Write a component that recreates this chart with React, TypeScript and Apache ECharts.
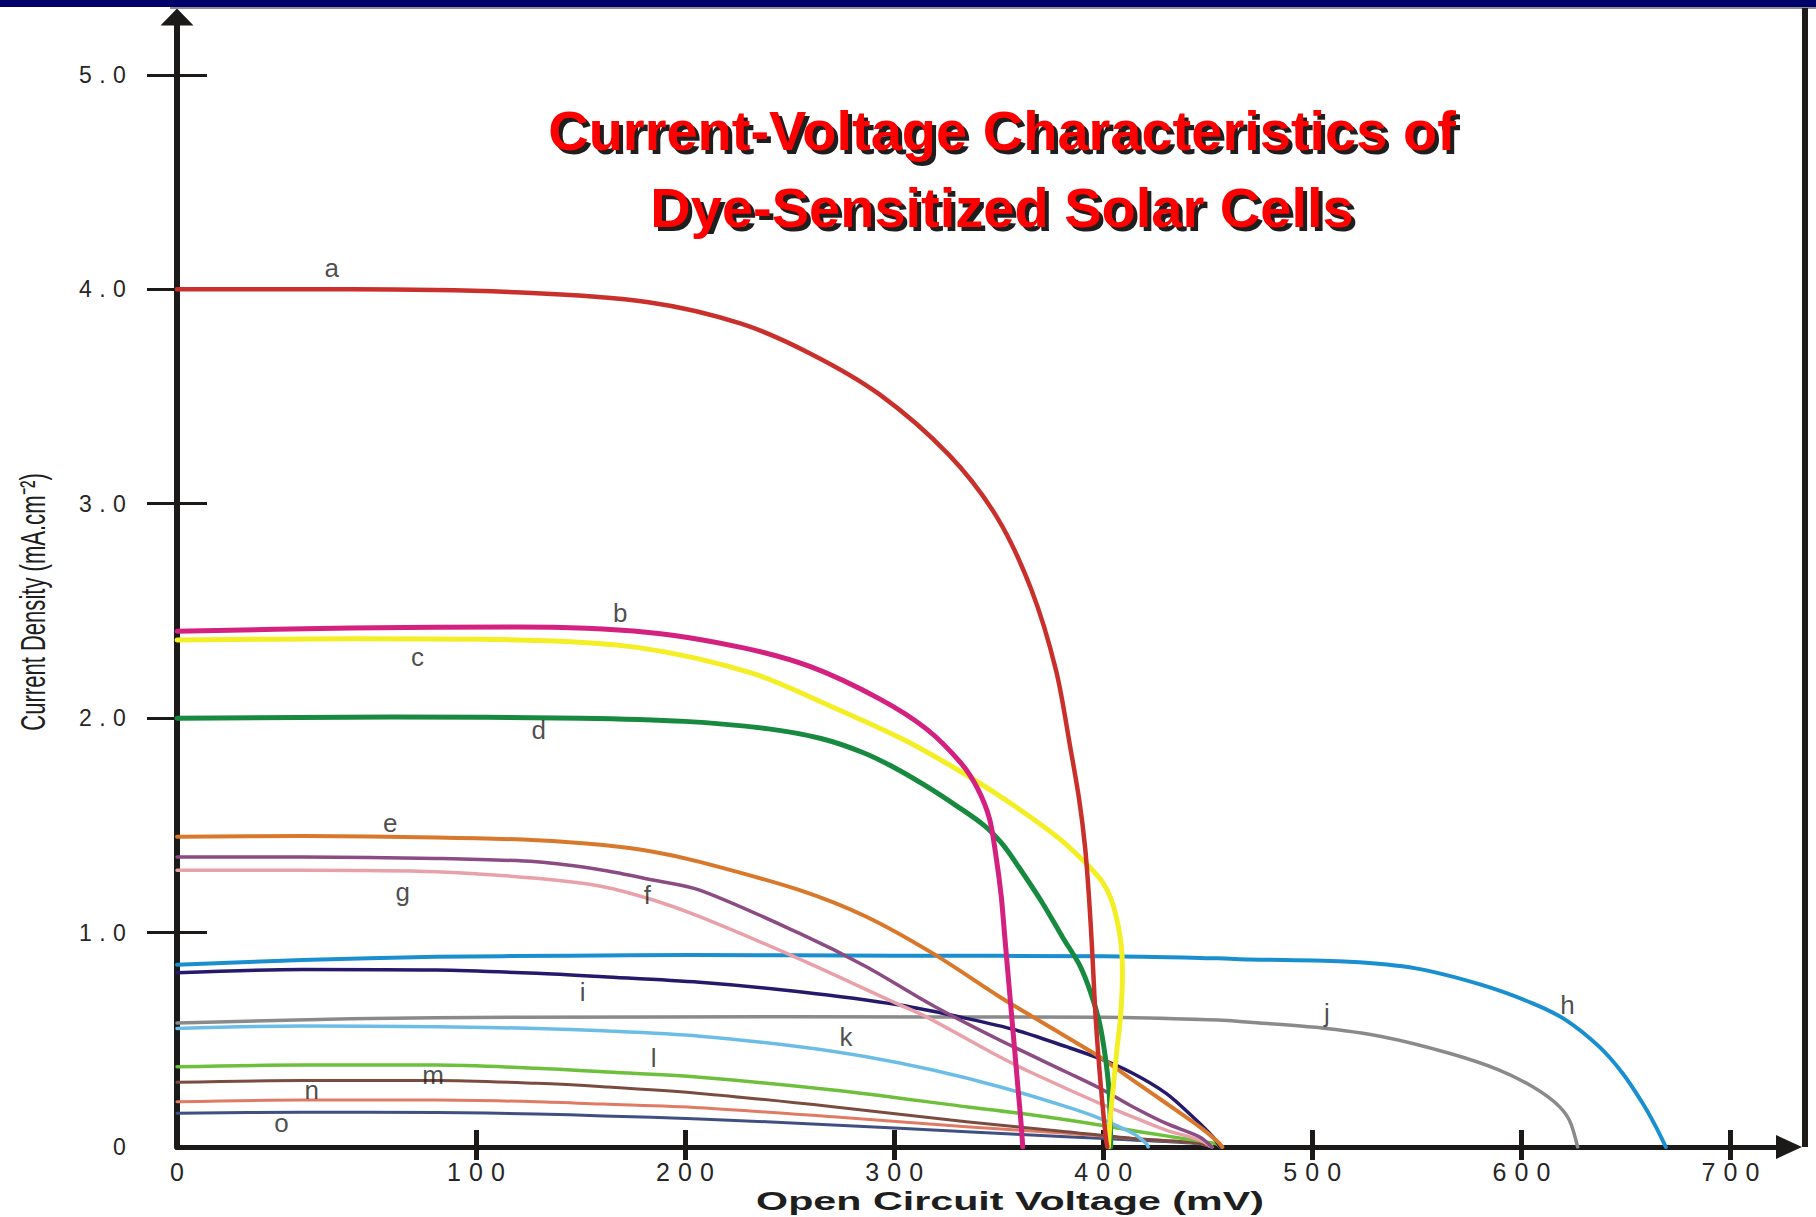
import React, { useEffect, useRef } from 'react';
import * as echarts from 'echarts';

// ---------- axis ranges & ticks ----------
const X_MIN = -43;
const X_MAX = 728;
const Y_MIN = 0;
const Y_MAX = 5.27;
const X_TICKS = [100, 200, 300, 400, 500, 600, 700];
const Y_TICKS = [1, 2, 3, 4, 5];
const Y_LABEL_VALUES = [0, 1, 2, 3, 4, 5];

// ---------- curves: [voltage (mV), current density (mA/cm2)] ----------
const curveA: [number, number][] = [
  [-43, 4.0], [40, 4.0], [121.6, 3.985], [182.5, 3.94], [226.8, 3.84], [260, 3.7], [293, 3.51],
  [326, 3.23], [349, 2.94], [365.6, 2.6], [377.5, 2.22], [384.5, 1.85], [388.5, 1.62], [391.3, 1.4],
  [393.3, 1.15], [394.8, 0.9], [396.4, 0.6], [398.8, 0.29], [401.4, 0.03], [402, 0],
];
const curveB: [number, number][] = [
  [-43, 2.405], [40, 2.42], [120, 2.425], [182.5, 2.4], [226.8, 2.33], [260, 2.24], [293, 2.09],
  [315.4, 1.95], [332, 1.79], [340, 1.67], [345.6, 1.531], [348.8, 1.351], [351.2, 1.172],
  [352.8, 0.993], [354.4, 0.814], [356, 0.635], [357.6, 0.457], [359.2, 0.278], [360.8, 0.099], [361.5, 0],
];
const curveC: [number, number][] = [
  [-43, 2.365], [40, 2.37], [120, 2.365], [177, 2.33], [232, 2.21], [271, 2.05], [304.5, 1.9],
  [332, 1.75], [350, 1.64], [365, 1.54], [380, 1.43], [392, 1.32], [400, 1.23], [405, 1.12],
  [408.5, 0.95], [409.2, 0.8], [408.2, 0.6], [406.5, 0.45], [405, 0.3], [403.5, 0.15], [402.5, 0],
];
const curveD: [number, number][] = [
  [-43, 2.0], [60, 2.005], [150, 2.0], [200, 1.985], [240, 1.95], [265, 1.905], [285, 1.84],
  [300, 1.77], [315, 1.685], [330, 1.59], [343, 1.5], [352, 1.41], [360, 1.3], [371, 1.137],
  [380.7, 0.976], [388.6, 0.85], [394, 0.72], [398.2, 0.58], [401, 0.42], [402.8, 0.26],
  [403.4, 0.1], [403.6, 0],
];
const curveE: [number, number][] = [
  [-43, 1.447], [17, 1.45], [81, 1.444], [129, 1.431], [160.8, 1.408], [184.7, 1.377], [207, 1.33],
  [254.8, 1.198], [286.7, 1.074], [318.5, 0.903], [350.4, 0.701], [366.3, 0.607], [382.3, 0.514],
  [398.2, 0.421], [414.1, 0.312], [430.1, 0.204], [446, 0.095], [454.8, 0.025], [457, 0],
];
const curveF: [number, number][] = [
  [-43, 1.352], [17, 1.352], [81, 1.346], [129, 1.33], [160.8, 1.291], [184.7, 1.245], [207, 1.198],
  [254.8, 0.996], [286.7, 0.841], [318.5, 0.66], [350.4, 0.499], [382.3, 0.35], [398.2, 0.275],
  [414.1, 0.188], [430.1, 0.11], [446, 0.048], [452, 0],
];
const curveG: [number, number][] = [
  [-43, 1.291], [17, 1.291], [81, 1.284], [129, 1.253], [160.8, 1.214], [184.7, 1.152], [207, 1.074],
  [251.6, 0.89], [301, 0.67], [315.4, 0.607], [350.4, 0.421], [366.3, 0.344], [398.2, 0.204],
  [414.1, 0.141], [430.1, 0.079], [446, 0.033], [452, 0],
];
const curveH: [number, number][] = [
  [-43, 0.85], [17, 0.872], [81, 0.887], [145, 0.892], [202, 0.895], [300, 0.892], [400, 0.89],
  [455, 0.88], [470, 0.875], [517.7, 0.864], [549.6, 0.833], [581.4, 0.755], [605.4, 0.67],
  [621.3, 0.592], [637.2, 0.468], [648.4, 0.344], [658, 0.204], [664.3, 0.095], [669.1, 0],
];
const curveI: [number, number][] = [
  [-43, 0.813], [17, 0.828], [81, 0.825], [129, 0.81], [160.8, 0.794], [207, 0.768], [254.8, 0.724],
  [302.6, 0.662], [334.5, 0.6], [358.4, 0.545], [382.3, 0.468], [398.2, 0.413], [414.1, 0.344],
  [430.1, 0.25], [442.8, 0.141], [452.4, 0.048], [456, 0],
];
const curveJ: [number, number][] = [
  [-43, 0.578], [40, 0.598], [120, 0.605], [250, 0.607], [400, 0.605], [455, 0.592], [470, 0.582],
  [501.8, 0.558], [533.6, 0.514], [565.5, 0.437], [589.4, 0.359], [605.4, 0.281], [616.5, 0.204],
  [622.9, 0.126], [626.9, 0],
];
const curveK: [number, number][] = [
  [-43, 0.553], [17, 0.564], [81, 0.561], [129, 0.553], [160.8, 0.542], [207, 0.517], [254.8, 0.468],
  [286.7, 0.421], [318.5, 0.359], [350.4, 0.281], [382.3, 0.188], [398.2, 0.134], [414.1, 0.064],
  [420.5, 0.017], [421.5, 0],
];
const curveL: [number, number][] = [
  [-43, 0.374], [17, 0.382], [81, 0.382], [129, 0.367], [160.8, 0.351], [207, 0.325], [270.7, 0.266],
  [334.5, 0.188], [366.3, 0.149], [398.2, 0.103], [422.1, 0.064], [438, 0.04], [454, 0.015], [456, 0],
];
const curveM: [number, number][] = [
  [-43, 0.302], [17, 0.31], [81, 0.31], [129, 0.297], [160.8, 0.281], [207, 0.25], [270.7, 0.188],
  [334.5, 0.118], [382.3, 0.071], [414.1, 0.04], [446, 0.018], [452, 0],
];
const curveN: [number, number][] = [
  [-43, 0.211], [17, 0.219], [81, 0.219], [129, 0.211], [160.8, 0.2], [207, 0.183], [270.7, 0.141],
  [334.5, 0.095], [382.3, 0.064], [414.1, 0.04], [446, 0.018], [452, 0],
];
const curveO: [number, number][] = [
  [-43, 0.157], [17, 0.162], [81, 0.161], [129, 0.154], [160.8, 0.145], [207, 0.131], [270.7, 0.103],
  [334.5, 0.071], [382.3, 0.048], [414.1, 0.033], [446, 0.015], [452, 0],
];

// ---------- curve letter labels ----------
const LABEL_NAMES = ['a', 'b', 'c', 'd', 'e', 'f', 'g', 'h', 'i', 'j', 'k', 'l', 'm', 'n', 'o'];
const LABEL_X = [31, 169, 72, 130, 59, 182, 65, 622, 151, 507, 277, 185, 79.5, 21.4, 7];
const LABEL_Y = [4.1, 2.49, 2.285, 1.945, 1.509, 1.175, 1.19, 0.662, 0.724, 0.623, 0.514, 0.413, 0.336, 0.266, 0.11];

// ---------- texts ----------
const TITLE_LINES = ['Current-Voltage Characteristics of', 'Dye-Sensitized Solar Cells'];
const X_NAME = 'Open Circuit Voltage (mV)';
const Y_NAME = 'Current Density (mA.cm\u207B\u00B2)';

// ---------- styles (drawing order: first drawn first) ----------
const SERIES_ORDER = [
  { name: 'o', data: curveO, color: '#3f4f80', width: 3 },
  { name: 'n', data: curveN, color: '#e07a64', width: 3 },
  { name: 'm', data: curveM, color: '#7a4c40', width: 3 },
  { name: 'l', data: curveL, color: '#6ebf3c', width: 3.5 },
  { name: 'k', data: curveK, color: '#6cbde6', width: 3.5 },
  { name: 'j', data: curveJ, color: '#8a8a8a', width: 3.5 },
  { name: 'i', data: curveI, color: '#24196b', width: 3.5 },
  { name: 'h', data: curveH, color: '#1a8fd0', width: 4 },
  { name: 'g', data: curveG, color: '#e8a1a8', width: 3.5 },
  { name: 'f', data: curveF, color: '#8b4b83', width: 3.5 },
  { name: 'e', data: curveE, color: '#d9782a', width: 4 },
  { name: 'd', data: curveD, color: '#178a40', width: 5 },
  { name: 'c', data: curveC, color: '#f4ee25', width: 5 },
  { name: 'b', data: curveB, color: '#d4207f', width: 5 },
  { name: 'a', data: curveA, color: '#c9302c', width: 4.5 },
];

const FONT = 'Liberation Sans, Arial, Helvetica, sans-serif';
const AXIS_COLOR = '#1c1a18';
const TEXT_COLOR = '#1e1e1e';
const TICK_TEXT_COLOR = '#262626';

const TITLE_X = 1002;
const TITLE_Y = 130;
const TITLE_LINE_GAP = 77;
const SHADOW_OFF = 4;
const SHADOW_W = 1000;
const SHADOW_H = 200;

const escapeXml = (s: string) => s.replace(/&/g, '&amp;').replace(/</g, '&lt;').replace(/>/g, '&gt;');

// decorative drop shadow of the title, rendered as a picture behind the real title text
const shadowImage = (): string => {
  const lines = TITLE_LINES.map(
    (t, i) =>
      `<text x="${SHADOW_W / 2}" y="${100 + i * TITLE_LINE_GAP}" dominant-baseline="central">${escapeXml(t)}</text>`
  ).join('');
  const svg =
    `<svg xmlns="http://www.w3.org/2000/svg" width="${SHADOW_W}" height="${SHADOW_H}">` +
    `<g font-family="Liberation Sans, Arial, sans-serif" font-weight="bold" font-size="56" text-anchor="middle" fill="#1e1e1e">` +
    lines +
    `</g></svg>`;
  return 'data:image/svg+xml;charset=utf-8,' + encodeURIComponent(svg);
};

const spaced = (s: string) =>
  s
    .split('')
    .map((ch) => (ch === '.' ? '{p|.}' : `{d|${ch}}`))
    .join('');

function buildOption(): any {
  const lineSeries = SERIES_ORDER.map((c, i) => ({
    type: 'line',
    name: c.name,
    data: c.data,
    xAxisIndex: 0,
    yAxisIndex: 0,
    showSymbol: false,
    symbol: 'none',
    smooth: 0.3,
    lineStyle: { color: c.color, width: c.width, cap: 'round', join: 'round' },
    z: 2 + i * 0.01,
    silent: true,
  }));

  const labelSeries = {
    type: 'scatter',
    xAxisIndex: 0,
    yAxisIndex: 0,
    symbol: 'circle',
    symbolSize: 1,
    itemStyle: { color: 'rgba(0,0,0,0)' },
    data: LABEL_NAMES.map((n, i) => ({ name: n, value: [LABEL_X[i], LABEL_Y[i]] })),
    label: {
      show: true,
      position: 'inside',
      formatter: '{b}',
      fontFamily: FONT,
      fontSize: 26,
      color: TEXT_COLOR,
    },
    z: 5,
    silent: true,
  };

  const xRich = {
    d: { width: 22, align: 'center', fontSize: 25, fontFamily: FONT, color: TICK_TEXT_COLOR },
    p: { width: 14, align: 'center', fontSize: 25, fontFamily: FONT, color: TICK_TEXT_COLOR },
  };
  const yRich = {
    d: { width: 19, align: 'center', fontSize: 23, fontFamily: FONT, color: TICK_TEXT_COLOR },
    p: { width: 15, align: 'center', fontSize: 23, fontFamily: FONT, color: TICK_TEXT_COLOR },
  };

  return {
    animation: false,
    backgroundColor: '#ffffff',
    grid: { left: 177, right: 27, top: 17, bottom: 70, containLabel: false, outerBoundsMode: 'none' },
    xAxis: [
      {
        type: 'value',
        position: 'bottom',
        min: X_MIN,
        max: X_MAX,
        axisLine: {
          show: true,
          onZero: false,
          lineStyle: { color: AXIS_COLOR, width: 5 },
          symbol: ['none', 'triangle'],
          symbolSize: [24, 26],
        },
        axisTick: { show: true, customValues: X_TICKS, inside: false, length: 13, lineStyle: { color: AXIS_COLOR, width: 5 } },
        axisLabel: {
          show: true,
          customValues: [X_MIN, ...X_TICKS],
          margin: 12,
          formatter: (v: number) => spaced(v < 0 ? '0' : String(Math.round(v))),
          rich: xRich,
        },
        splitLine: { show: false },
      },
      {
        type: 'value',
        position: 'bottom',
        min: X_MIN,
        max: X_MAX,
        axisLine: { show: false, onZero: false },
        axisTick: { show: true, customValues: X_TICKS, inside: true, length: 17, lineStyle: { color: AXIS_COLOR, width: 5 } },
        axisLabel: { show: false },
        splitLine: { show: false },
      },
    ],
    yAxis: [
      {
        type: 'value',
        position: 'left',
        min: Y_MIN,
        max: Y_MAX,
        axisLine: {
          show: true,
          onZero: false,
          lineStyle: { color: AXIS_COLOR, width: 6 },
          symbol: ['none', 'triangle'],
          symbolSize: [33, 17],
        },
        axisTick: { show: true, customValues: Y_TICKS, inside: false, length: 30, lineStyle: { color: AXIS_COLOR, width: 3 } },
        axisLabel: {
          show: true,
          customValues: Y_LABEL_VALUES,
          margin: 48,
          formatter: (v: number) => (v === 0 ? '{d|0}' : spaced(v.toFixed(1))),
          rich: yRich,
        },
        splitLine: { show: false },
      },
      {
        type: 'value',
        position: 'left',
        min: Y_MIN,
        max: Y_MAX,
        axisLine: { show: false, onZero: false },
        axisTick: { show: true, customValues: Y_TICKS, inside: true, length: 30, lineStyle: { color: AXIS_COLOR, width: 3 } },
        axisLabel: { show: false },
        splitLine: { show: false },
      },
    ],
    graphic: [
      { type: 'rect', shape: { x: 0, y: 0, width: 1816, height: 7 }, style: { fill: '#00006a' }, z: 10 },
      { type: 'rect', shape: { x: 170, y: 7, width: 1646, height: 2 }, style: { fill: '#8f8f8f' }, z: 10 },
      { type: 'rect', shape: { x: 1802, y: 8, width: 6, height: 1139 }, style: { fill: '#1f1b18' }, z: 10 },
      {
        type: 'image',
        x: TITLE_X + SHADOW_OFF - SHADOW_W / 2,
        y: TITLE_Y + SHADOW_OFF - 100,
        z: 20,
        style: { image: shadowImage(), width: SHADOW_W, height: SHADOW_H },
      },
      ...TITLE_LINES.map((t, i) => ({
        type: 'text',
        x: TITLE_X,
        y: TITLE_Y + i * TITLE_LINE_GAP,
        z: 21,
        style: {
          text: t,
          fill: '#ff0000',
          font: `bold 56px ${FONT}`,
          align: 'center',
          verticalAlign: 'middle',
        },
      })),
      {
        type: 'text',
        x: 1010,
        y: 1201,
        scaleX: 1.65,
        z: 20,
        style: { text: X_NAME, fill: TEXT_COLOR, font: `bold 25px ${FONT}`, align: 'center', verticalAlign: 'middle' },
      },
      {
        type: 'text',
        x: 33,
        y: 602,
        rotation: Math.PI / 2,
        scaleX: 0.63,
        z: 20,
        style: { text: Y_NAME, fill: TEXT_COLOR, font: `35px ${FONT}`, align: 'center', verticalAlign: 'middle' },
      },
    ],
    series: [...lineSeries, labelSeries],
  };
}

export default function App() {
  const ref = useRef<HTMLDivElement>(null);
  useEffect(() => {
    if (!ref.current) return;
    const chart = echarts.init(ref.current, null, { renderer: 'svg' });
    chart.setOption(buildOption());
    return () => chart.dispose();
  }, []);
  return (
    <div
      ref={ref}
      style={{ position: 'fixed', left: 0, top: 0, width: 1816, height: 1217, background: '#fff' }}
    />
  );
}
